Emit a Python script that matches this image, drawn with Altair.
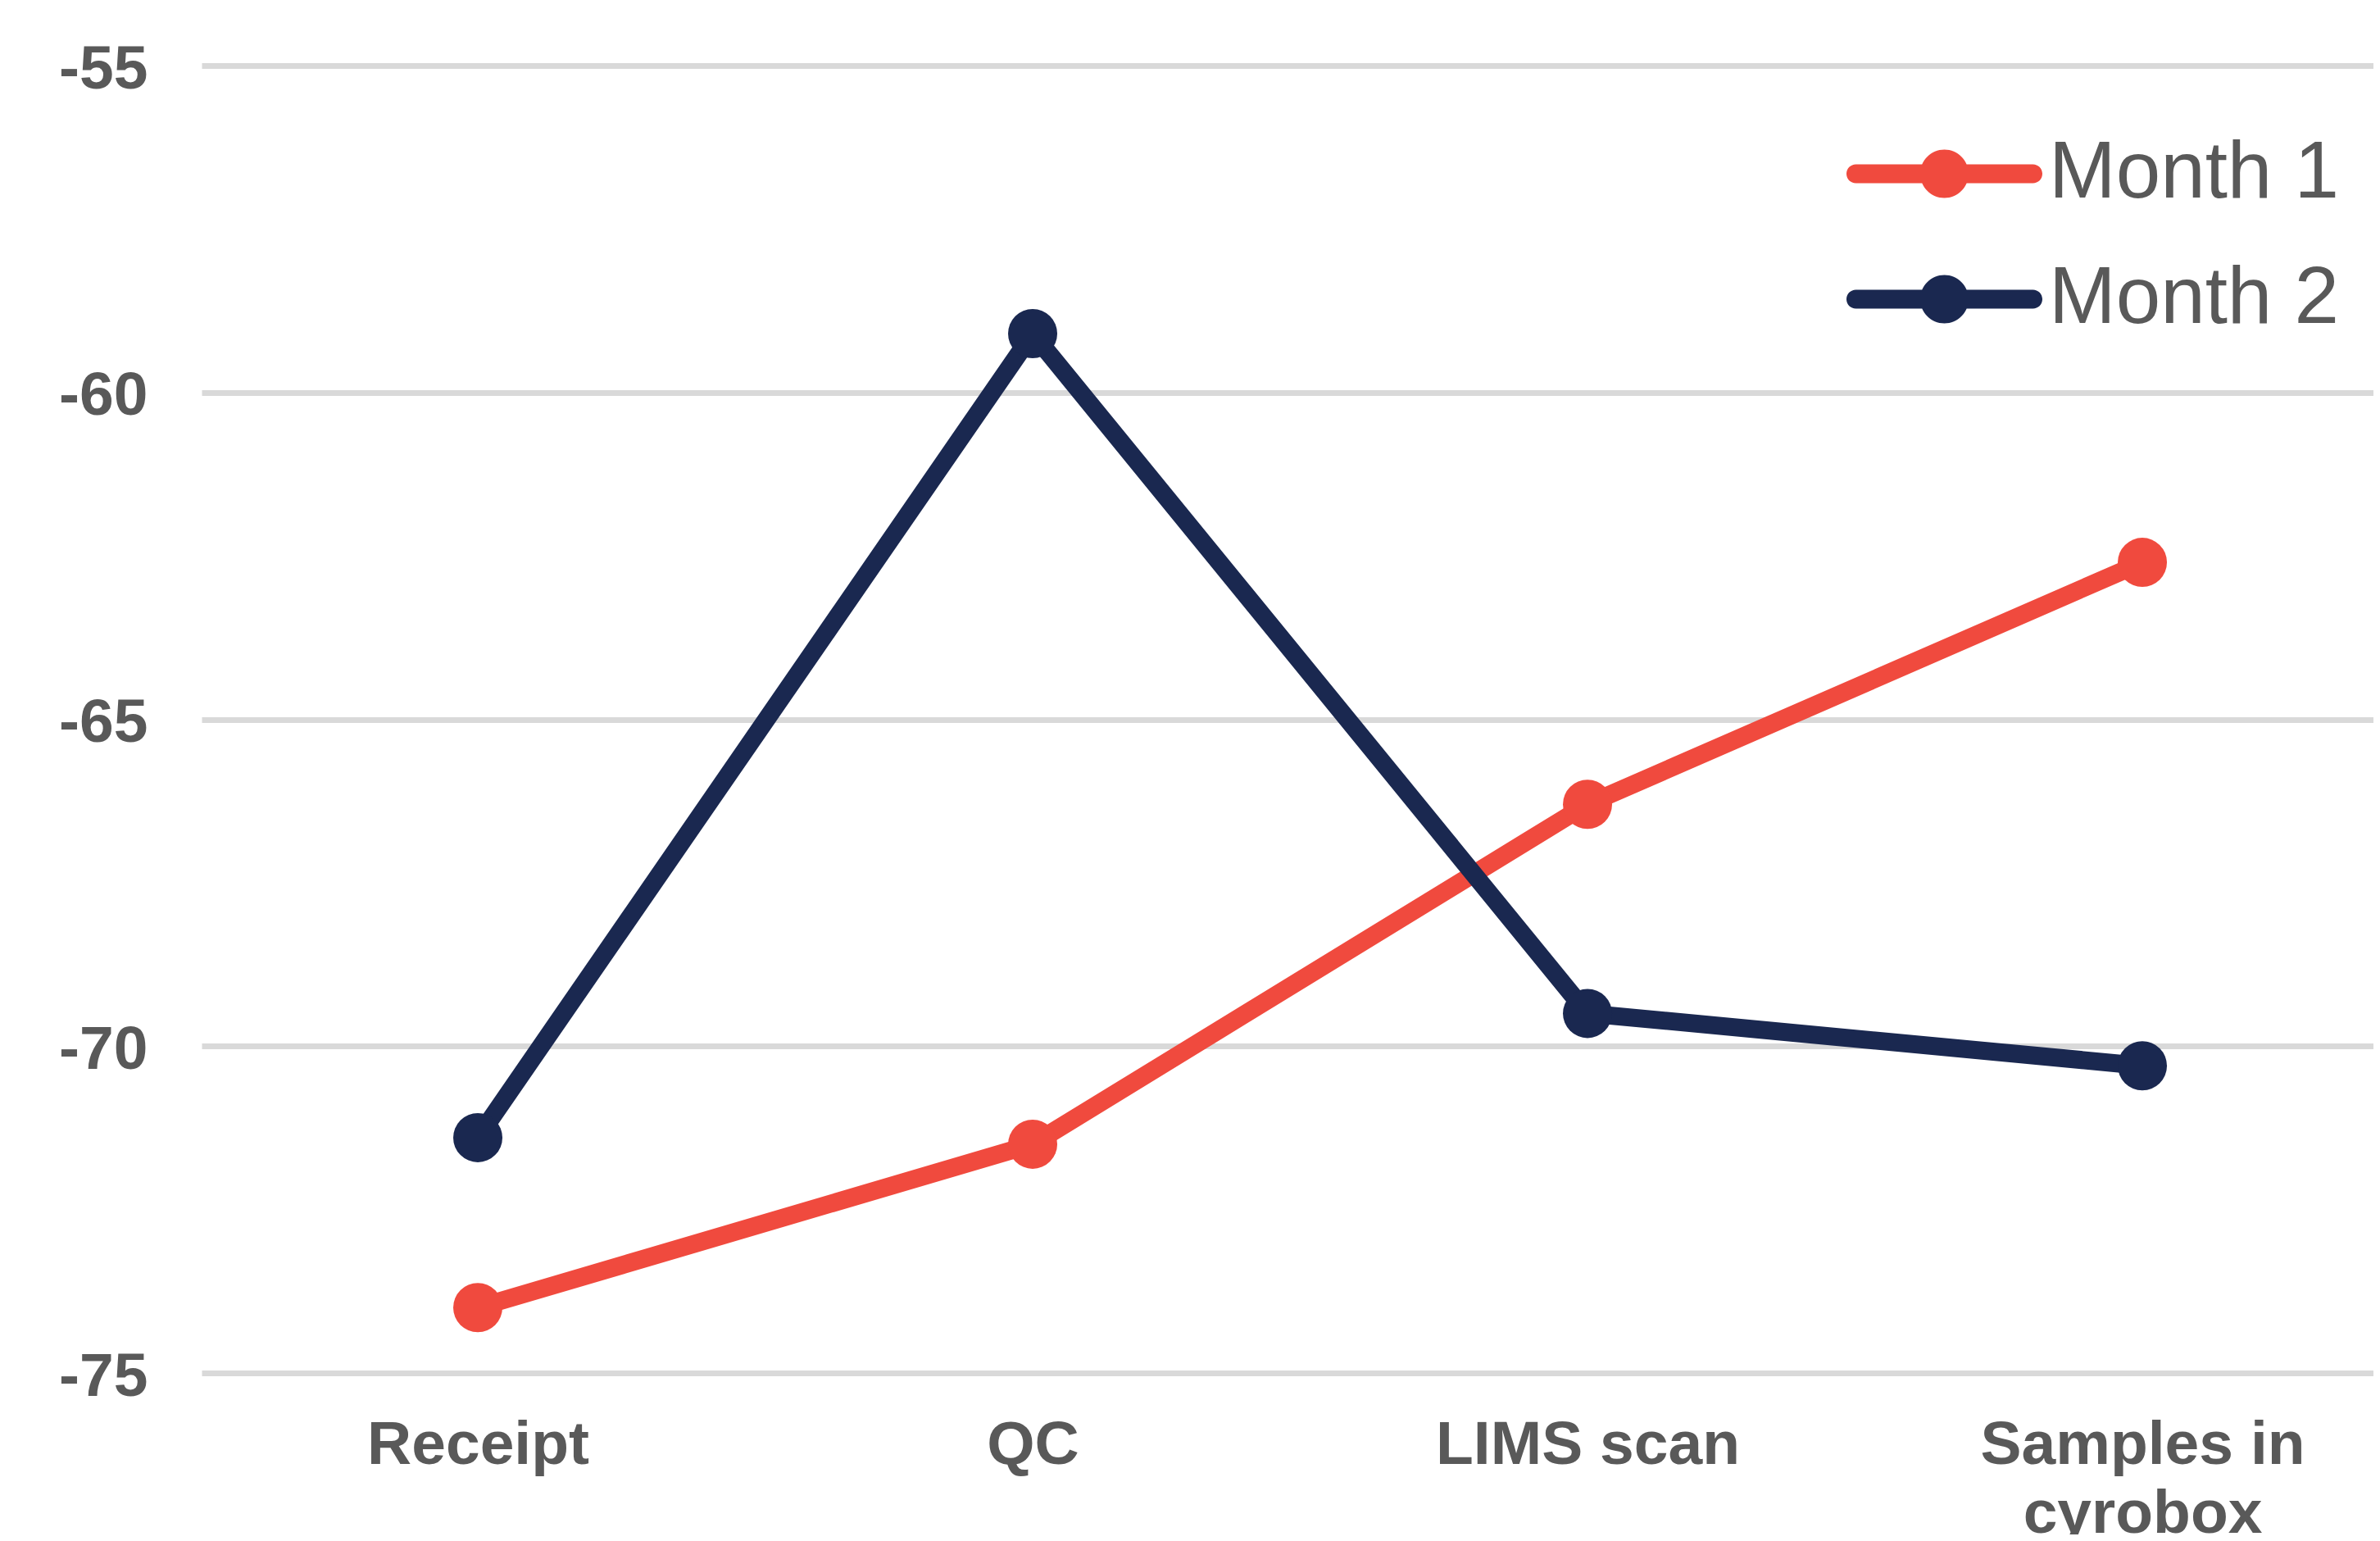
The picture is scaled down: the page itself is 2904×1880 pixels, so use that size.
import json
import textwrap
import altair as alt
import pandas as pd

# ---- data ----
categories = ["Receipt", "QC", "LIMS scan", "Samples in cyrobox"]
series_names = ["Month 1", "Month 2"]
month1 = [-74.0, -71.5, -66.3, -62.6]
month2 = [-71.4, -59.1, -69.5, -70.3]
y_ticks = [-75, -70, -65, -60, -55]
colors = ["#F04A3E", "#1A2850"]

rows = []
for name, vals in zip(series_names, [month1, month2]):
    for i, (cat, v) in enumerate(zip(categories, vals)):
        rows.append({"idx": i, "category": cat, "series": name, "value": v})
df = pd.DataFrame(rows)

wrapped = [textwrap.wrap(c, 12) for c in categories]
x_label_expr = json.dumps(wrapped) + "[datum.value]"

TEXT = "#595959"
FONT = "Liberation Sans"

# legend glyph: rounded bar with a dot in the middle (units of sqrt(size)/2)
legend_path = (
    "M-2.204,-0.235L2.204,-0.235A0.235,0.235 0 0 1 2.204,0.235"
    "L-2.204,0.235A0.235,0.235 0 0 1 -2.204,-0.235Z"
    "M-0.602,0A0.602,0.602 0 1 1 0.602,0A0.602,0.602 0 1 1 -0.602,0Z"
)

x_enc = alt.X(
    "idx:Q",
    scale=alt.Scale(domain=[-0.4978, 3.4165], nice=False, zero=False),
    axis=alt.Axis(
        values=list(range(len(categories))),
        labelExpr=x_label_expr,
        title=None,
        grid=False,
        domain=False,
        ticks=False,
        tickSize=0,
        labelPadding=51,
        labelFontSize=75,
        labelFont=FONT,
        labelFontWeight="bold",
        labelColor=TEXT,
        labelLineHeight=84,
        labelFlush=False,
        labelOverlap=False,
        labelLimit=1000,
    ),
)

y_enc = alt.Y(
    "value:Q",
    scale=alt.Scale(domain=[-75, -55], nice=False, zero=False),
    axis=alt.Axis(
        values=y_ticks,
        labelExpr="datum.value + ''",
        title=None,
        grid=True,
        gridColor="#D9D9D9",
        gridWidth=7,
        domain=False,
        ticks=False,
        tickSize=0,
        labelPadding=66,
        labelOffset=4,
        labelFontSize=75,
        labelFont=FONT,
        labelFontWeight="bold",
        labelColor=TEXT,
    ),
)

color_scale = alt.Scale(domain=series_names, range=colors)

legend = alt.Legend(
    title=None,
    orient="none",
    legendX=2007,
    legendY=83,
    symbolType=legend_path,
    symbolSize=9604,
    symbolStrokeWidth=0,
    symbolOpacity=1,
    symbolOffset=70.5,
    labelFontSize=98,
    labelFont=FONT,
    labelColor=TEXT,
    labelOffset=78.5,
    labelLimit=1000,
    rowPadding=55,
    padding=0,
)

color_enc = alt.Color("series:N", scale=color_scale, legend=legend)

lines = alt.Chart(df).mark_line(strokeWidth=22).encode(
    x=x_enc,
    y=y_enc,
    color=color_enc,
)

points = alt.Chart(df).mark_point(
    filled=True, shape="circle", size=3600, opacity=1
).encode(
    x=x_enc,
    y=y_enc,
    color=color_enc,
)

chart = (
    alt.layer(lines, points)
    .properties(
        width=2650,
        height=1595,
        autosize=alt.AutoSizeParams(type="none"),
        padding={"left": 238, "top": 72, "right": 0, "bottom": 197},
        background="white",
    )
    .configure_view(stroke=None)
)

chart.save("out.html", embed_options={"renderer": "svg", "actions": False})
